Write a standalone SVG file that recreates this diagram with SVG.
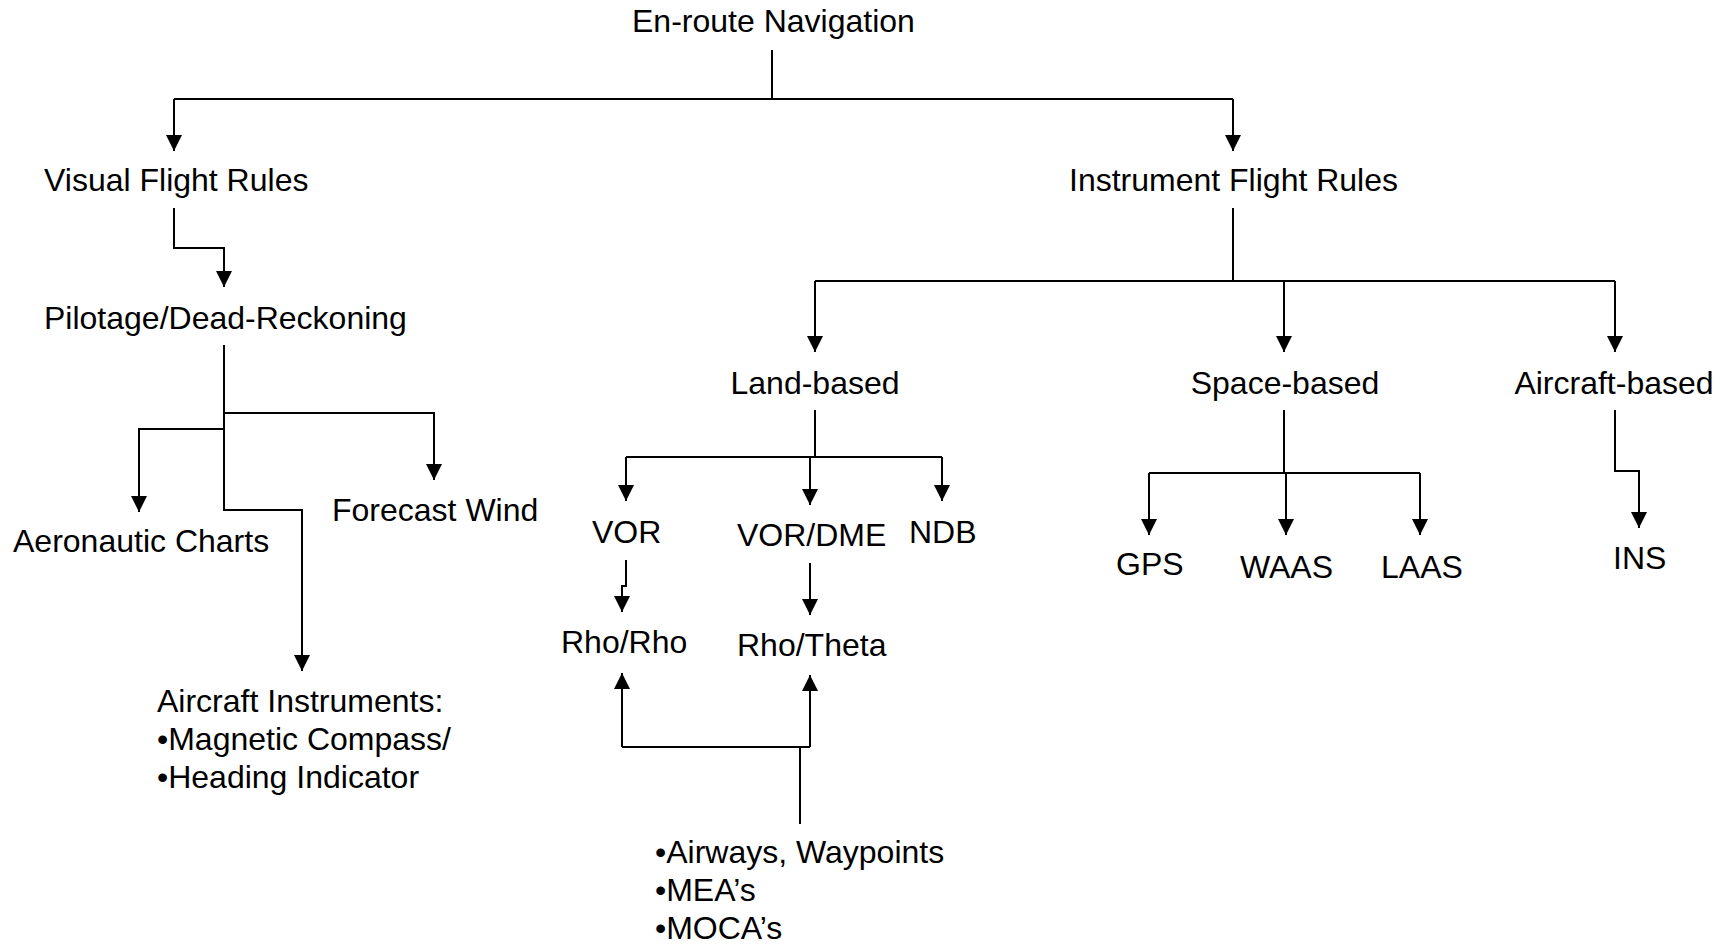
<svg xmlns="http://www.w3.org/2000/svg" width="1732" height="948" viewBox="0 0 1732 948">
<style>
text{font-family:"Liberation Sans",Arial,sans-serif;font-size:32px;fill:#000}
.c path{fill:none;stroke:#000;stroke-width:2}
</style>
<defs>
<marker id="ah" markerUnits="userSpaceOnUse" markerWidth="16" markerHeight="16" viewBox="0 0 16 16" refX="16" refY="8" orient="auto">
<path d="M0,0 L16,8 L0,16 z" fill="#000"/>
</marker>
</defs>
<rect width="1732" height="948" fill="#fff"/>
<g class="c" id="connectors">
<path d="M772,50 V99"/>
<path d="M174,99 H1233"/>
<path d="M174,99 V151" marker-end="url(#ah)"/>
<path d="M1233,99 V151" marker-end="url(#ah)"/>
<path d="M174,208 V248 H224 V287" marker-end="url(#ah)"/>
<path d="M224,345 V510 H302 V671" marker-end="url(#ah)"/>
<path d="M224,413 H434 V480" marker-end="url(#ah)"/>
<path d="M224,429 H139 V512" marker-end="url(#ah)"/>
<path d="M1233,208 V281"/>
<path d="M815,281 H1615"/>
<path d="M815,281 V352" marker-end="url(#ah)"/>
<path d="M1284,281 V352" marker-end="url(#ah)"/>
<path d="M1615,281 V352" marker-end="url(#ah)"/>
<path d="M815,410 V457"/>
<path d="M626,457 H942"/>
<path d="M626,457 V501" marker-end="url(#ah)"/>
<path d="M810,457 V505" marker-end="url(#ah)"/>
<path d="M942,457 V501" marker-end="url(#ah)"/>
<path d="M626,560 V586 H622 V612" marker-end="url(#ah)"/>
<path d="M810,563 V615" marker-end="url(#ah)"/>
<path d="M800,824 V747"/>
<path d="M622,747 H810"/>
<path d="M622,747 V673" marker-end="url(#ah)"/>
<path d="M810,747 V675" marker-end="url(#ah)"/>
<path d="M1284,410 V473"/>
<path d="M1149,473 H1420"/>
<path d="M1149,473 V535" marker-end="url(#ah)"/>
<path d="M1286,473 V535" marker-end="url(#ah)"/>
<path d="M1420,473 V535" marker-end="url(#ah)"/>
<path d="M1615,410 V471 H1639 V528" marker-end="url(#ah)"/>
</g>
<g id="n-enroute"><text x="632" y="32">En-route Navigation</text></g>
<g id="n-vfr"><text x="44" y="191">Visual Flight Rules</text></g>
<g id="n-ifr"><text x="1069" y="191">Instrument Flight Rules</text></g>
<g id="n-pilotage"><text x="44" y="329">Pilotage/Dead-Reckoning</text></g>
<g id="n-land"><text x="815" y="394" text-anchor="middle">Land-based</text></g>
<g id="n-space"><text x="1285" y="394" text-anchor="middle">Space-based</text></g>
<g id="n-aircraft"><text x="1614" y="394" text-anchor="middle">Aircraft-based</text></g>
<g id="n-charts"><text x="13" y="552">Aeronautic Charts</text></g>
<g id="n-wind"><text x="332" y="521">Forecast Wind</text></g>
<g id="n-instr"><text x="157" y="712">Aircraft Instruments:</text><text x="157" y="750">•Magnetic Compass/</text><text x="157" y="788">•Heading Indicator</text></g>
<g id="n-vor"><text x="592" y="543">VOR</text></g>
<g id="n-vordme"><text x="737" y="546">VOR/DME</text></g>
<g id="n-ndb"><text x="909" y="543">NDB</text></g>
<g id="n-rhorho"><text x="561" y="653">Rho/Rho</text></g>
<g id="n-rhotheta"><text x="737" y="656">Rho/Theta</text></g>
<g id="n-airways"><text x="655" y="863">•Airways, Waypoints</text><text x="655" y="901">•MEA&#8217;s</text><text x="655" y="939">•MOCA&#8217;s</text></g>
<g id="n-gps"><text x="1116" y="575">GPS</text></g>
<g id="n-waas"><text x="1240" y="578">WAAS</text></g>
<g id="n-laas"><text x="1381" y="578">LAAS</text></g>
<g id="n-ins"><text x="1613" y="569">INS</text></g>
</svg>
